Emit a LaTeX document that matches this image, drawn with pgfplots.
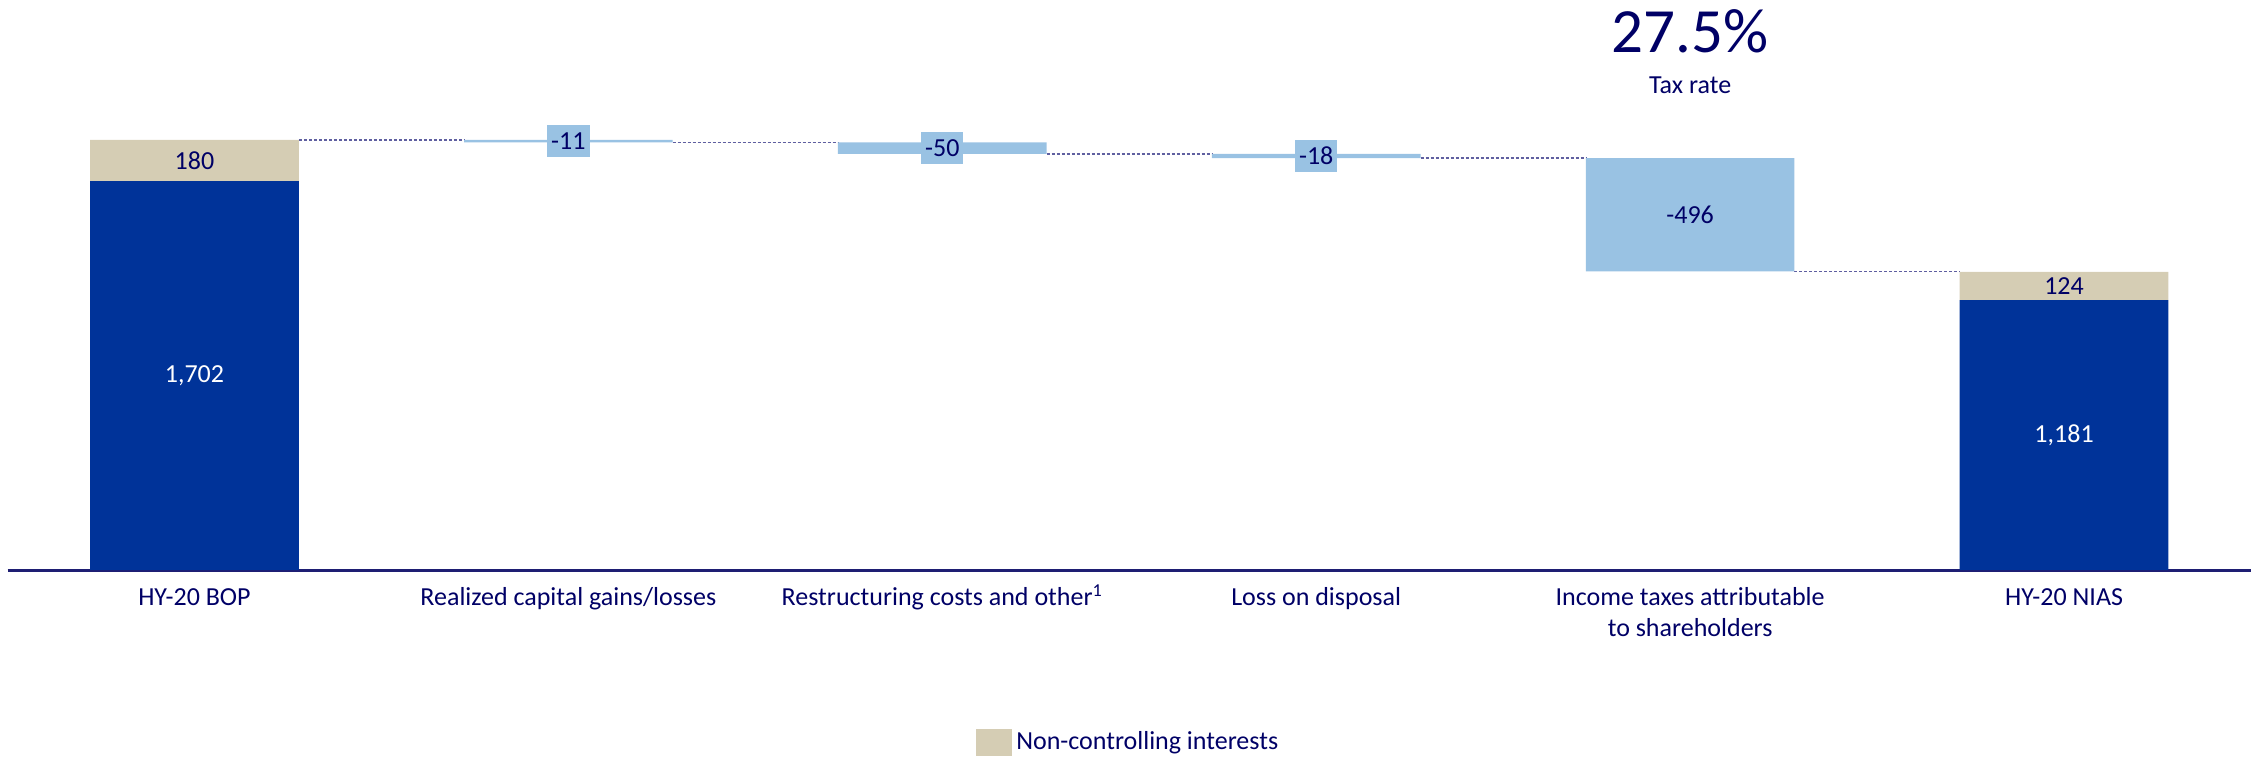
\documentclass[border=0pt]{standalone}
\usepackage{pgfplots}
\pgfplotsset{compat=1.18}
\usepackage{pgfplotstable}
\usepackage{fontspec}
\setmainfont{Carlito}

\definecolor{navytext}{RGB}{0,0,102}
\definecolor{axisnavy}{RGB}{30,30,115}
\definecolor{bopblue}{RGB}{0,51,153}
\definecolor{ncibeige}{RGB}{213,205,180}
\definecolor{movblue}{RGB}{153,194,227}
\definecolor{connector}{RGB}{95,95,160}

% waterfall: invisible base, shareholders' part, non-controlling part, movements
\pgfplotstableread{
pos base own  nci mov
0   0    1702 180 0
1   1871 0    0   11
2   1821 0    0   50
3   1803 0    0   18
4   1307 0    0   496
5   0    1181 124 0
}\waterfall

\begin{document}
\begin{tikzpicture}[font=\fontsize{13}{15.5}\selectfont,
  boxlbl/.style={text=navytext, fill=movblue, inner xsep=2pt, inner ysep=0pt, minimum height=16pt}]
\begin{axis}[
  scale only axis,
  width=1121.75pt, height=285pt,
  xmin=-0.5, xmax=5.5,
  ymin=0, ymax=2494.5,
  ybar stacked, bar width=0.558,
  hide y axis,
  axis x line*=bottom,
  x axis line style={axisnavy, line width=1.5pt},
  xtick={0,1,2,3,4,5},
  xticklabels={HY-20 BOP,
               Realized capital gains/losses,
               Restructuring costs and other\textsuperscript{1},
               Loss on disposal,
               {Income taxes attributable\\to shareholders},
               HY-20 NIAS},
  typeset ticklabels with strut,
  major tick length=0pt,
  xticklabel style={align=center, anchor=north, inner sep=0pt, yshift=-6.5pt, text=navytext},
  legend style={at={(0.5,-0.3018)}, anchor=center, draw=none, fill=none,
                font=\fontsize{13}{15.5}\selectfont, text=navytext},
  legend image code/.code={\fill[ncibeige] (0pt,-6.75pt) rectangle (18pt,6.75pt);},
  clip=false,
]
\addplot[draw=none, fill=none, forget plot] table[x=pos, y=base]{\waterfall};
\addplot[draw=none, fill=bopblue, forget plot] table[x=pos, y=own]{\waterfall};
\addplot[draw=none, fill=ncibeige] table[x=pos, y=nci]{\waterfall};
\addlegendentry{Non-controlling interests}
\addplot[draw=none, fill=movblue, forget plot] table[x=pos, y=mov]{\waterfall};

% dashed connectors between consecutive bars
\draw[connector, line width=0.75pt, dash pattern=on 1.5pt off 1pt] (axis cs:0.279,1882) -- (axis cs:0.721,1882);
\draw[connector, line width=0.75pt, dash pattern=on 1.5pt off 1pt] (axis cs:1.279,1871) -- (axis cs:1.721,1871);
\draw[connector, line width=0.75pt, dash pattern=on 1.5pt off 1pt] (axis cs:2.279,1821) -- (axis cs:2.721,1821);
\draw[connector, line width=0.75pt, dash pattern=on 1.5pt off 1pt] (axis cs:3.279,1803) -- (axis cs:3.721,1803);
\draw[connector, line width=0.75pt, dash pattern=on 1.5pt off 1pt] (axis cs:4.279,1307) -- (axis cs:4.721,1307);

% anchor points for the value labels (middle of each segment)
\coordinate (nciA) at (axis cs:0,1792);
\coordinate (ownA) at (axis cs:0,851);
\coordinate (nciB) at (axis cs:5,1243);
\coordinate (ownB) at (axis cs:5,590.5);
\coordinate (mov1) at (axis cs:1,1876.5);
\coordinate (mov2) at (axis cs:2,1846);
\coordinate (mov3) at (axis cs:3,1812);
\coordinate (mov4) at (axis cs:4,1555);
\coordinate (taxpct) at (axis cs:4,2359);
\coordinate (taxtxt) at (axis cs:4,2122);
\end{axis}

% value labels, set above the bars
\node[text=navytext] at (nciA) {180};
\node[text=white] at (ownA) {1,702};
\node[text=navytext] at (nciB) {124};
\node[text=white] at (ownB) {1,181};
\node[boxlbl] at (mov1) {-11};
\node[boxlbl] at (mov2) {-50};
\node[boxlbl] at (mov3) {-18};
\node[text=navytext] at (mov4) {-496};

% tax rate annotation
\node[text=navytext, font=\fontsize{31.5}{36}\selectfont] at (taxpct) {27.5\%};
\node[text=navytext] at (taxtxt) {Tax rate};

\pgfresetboundingbox
\path[use as bounding box] ([xshift=-3.75pt,yshift=-93.5pt]current axis.south west)
  rectangle ([xshift=3.5pt]current axis.north east);
\end{tikzpicture}
\end{document}
